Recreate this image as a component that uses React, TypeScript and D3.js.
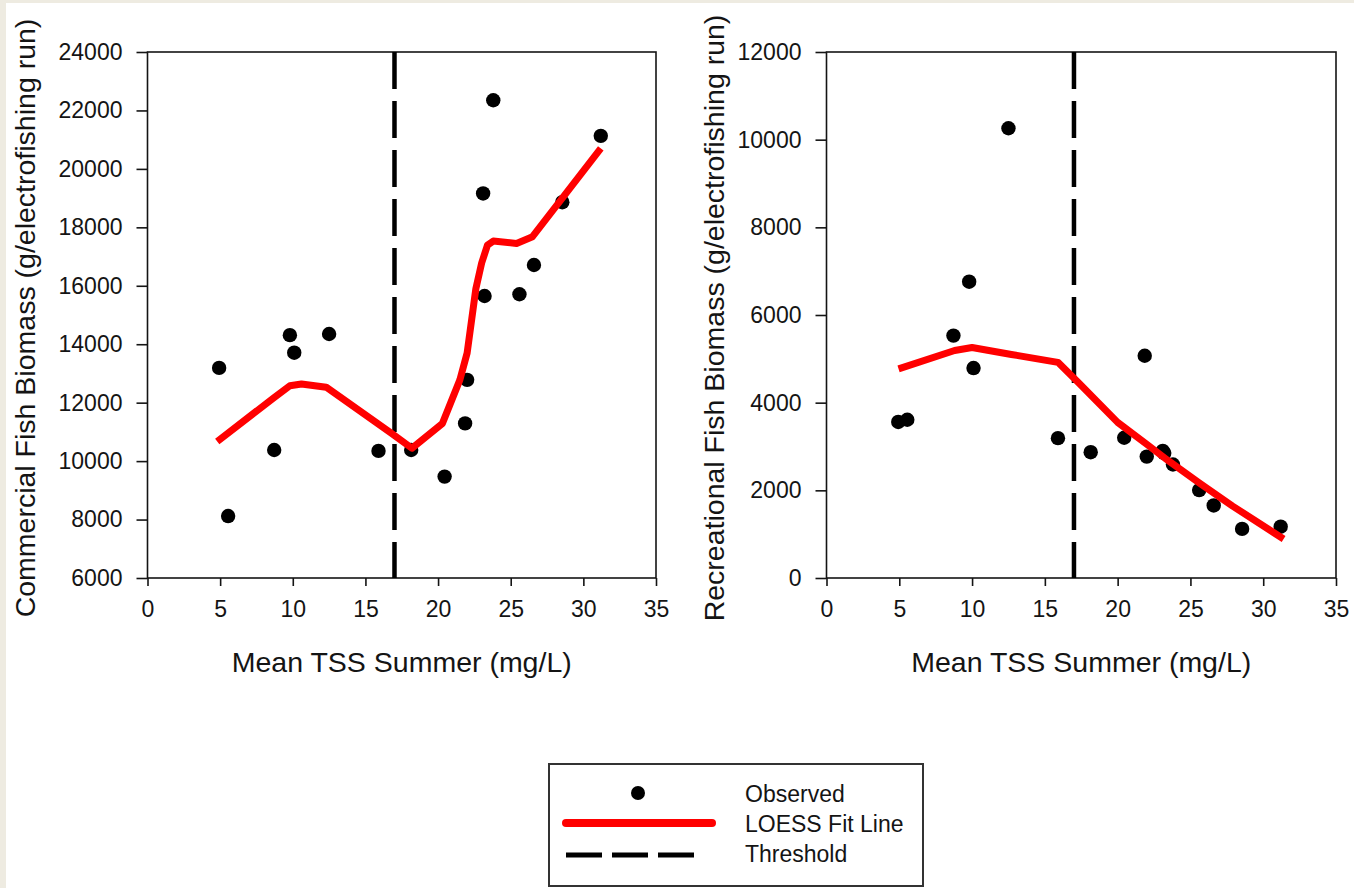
import React, { useEffect, useRef } from "react";
import * as d3 from "d3";

// shared x values (mean summer TSS, mg/L)
const tss = [4.93, 5.55, 8.72, 9.8, 10.1, 12.5, 15.9, 18.15, 20.45, 21.86, 22.0, 23.1, 23.2, 23.8, 25.6, 26.6, 28.55, 31.2];
const commercial = [13190, 8120, 10380, 14310, 13710, 14350, 10350, 10380, 9470, 11290, 12780, 19160, 15650, 22350, 15710, 16710, 18860, 21130];
const recreational = [3560, 3610, 5530, 6760, 4790, 10260, 3190, 2870, 3200, 5070, 2770, 2900, 2850, 2590, 2005, 1655, 1120, 1170];

// LOESS fit lines
const commercialFitX = [4.8, 8.7, 9.8, 10.6, 12.3, 16.8, 18.2, 20.3, 21.5, 22.0, 22.6, 23.0, 23.4, 23.8, 25.4, 26.5, 31.2];
const commercialFitY = [10670, 12170, 12580, 12640, 12530, 10950, 10440, 11290, 12780, 13700, 15900, 16780, 17390, 17530, 17450, 17680, 20700];
const recreationalFitX = [4.95, 8.8, 10.0, 12.7, 15.9, 17.3, 20.0, 22.0, 23.5, 25.6, 27.9, 31.4];
const recreationalFitY = [4770, 5190, 5260, 5100, 4920, 4460, 3550, 3050, 2670, 2170, 1640, 890];

const threshold = 17;
const xTicks = [0, 5, 10, 15, 20, 25, 30, 35];
const commercialTicks = [6000, 8000, 10000, 12000, 14000, 16000, 18000, 20000, 22000, 24000];
const recreationalTicks = [0, 2000, 4000, 6000, 8000, 10000, 12000];

const W = 1354;
const H = 888;
const FONT = "'Liberation Sans', Arial, sans-serif";
const INK = "#141414";

function drawPanel(svg, opts) {
  const { left, right, top, bottom, yDomain, yTicks, ys, fitX, fitY, title, titleX } = opts;
  const x = d3.scaleLinear().domain([0, 35]).range([left, right]);
  const y = d3.scaleLinear().domain(yDomain).range([bottom, top]);
  const g = svg.append("g");

  // frame
  g.append("rect")
    .attr("x", left)
    .attr("y", top)
    .attr("width", right - left)
    .attr("height", bottom - top)
    .attr("fill", "none")
    .attr("stroke", INK)
    .attr("stroke-width", 1.6);

  const yAxis = g
    .append("g")
    .attr("transform", `translate(${left},0)`)
    .call(d3.axisLeft(y).tickValues(yTicks).tickSize(11).tickSizeOuter(0).tickPadding(14).tickFormat(d3.format("d")));
  const xAxis = g
    .append("g")
    .attr("transform", `translate(0,${bottom})`)
    .call(d3.axisBottom(x).tickValues(xTicks).tickSize(8).tickSizeOuter(0).tickPadding(15).tickFormat(d3.format("d")));
  [yAxis, xAxis].forEach((a) => {
    a.select(".domain").remove();
    a.selectAll("line").attr("stroke", INK).attr("stroke-width", 1.6);
    a.selectAll("text").attr("fill", INK).style("font-family", FONT).style("font-size", "23px");
  });

  // threshold
  g.append("line")
    .attr("x1", x(threshold))
    .attr("x2", x(threshold))
    .attr("y1", top)
    .attr("y2", bottom)
    .attr("stroke", "#000")
    .attr("stroke-width", 4.5)
    .attr("stroke-dasharray", "37,12");

  // observed points
  g.selectAll("circle.obs")
    .data(tss)
    .enter()
    .append("circle")
    .attr("class", "obs")
    .attr("cx", (d) => x(d))
    .attr("cy", (d, i) => y(ys[i]))
    .attr("r", 7.2)
    .attr("fill", "#000");

  // LOESS fit
  const line = d3
    .line()
    .x((d) => x(d[0]))
    .y((d) => y(d[1]));
  g.append("path")
    .datum(fitX.map((v, i) => [v, fitY[i]]))
    .attr("d", line)
    .attr("fill", "none")
    .attr("stroke", "#ff0000")
    .attr("stroke-width", 7)
    .attr("stroke-linejoin", "round");

  // axis titles
  g.append("text")
    .attr("x", (left + right) / 2)
    .attr("y", 672)
    .attr("text-anchor", "middle")
    .attr("fill", INK)
    .style("font-family", FONT)
    .style("font-size", "28.5px")
    .text("Mean TSS Summer (mg/L)");
  g.append("text")
    .attr("transform", `translate(${titleX},318) rotate(-90)`)
    .attr("text-anchor", "middle")
    .attr("fill", INK)
    .style("font-family", FONT)
    .style("font-size", "28.5px")
    .text(title);
}

const App = () => {
  const ref = useRef(null);

  useEffect(() => {
    const svg = d3.select(ref.current);
    svg.selectAll("*").remove();

    svg.append("rect").attr("width", W).attr("height", H).attr("fill", "#eeebe1");
    svg.append("rect").attr("x", 6).attr("y", 3).attr("width", W - 6).attr("height", H - 3).attr("fill", "#fff");

    drawPanel(svg, {
      left: 147.5,
      right: 656,
      top: 52,
      bottom: 578,
      yDomain: [6000, 24000],
      yTicks: commercialTicks,
      ys: commercial,
      fitX: commercialFitX,
      fitY: commercialFitY,
      title: "Commercial Fish Biomass (g/electrofishing run)",
      titleX: 35,
    });
    drawPanel(svg, {
      left: 826.5,
      right: 1336,
      top: 52,
      bottom: 578,
      yDomain: [0, 12000],
      yTicks: recreationalTicks,
      ys: recreational,
      fitX: recreationalFitX,
      fitY: recreationalFitY,
      title: "Recreational Fish Biomass (g/electrofishing run)",
      titleX: 724,
    });

    // legend
    const lg = svg.append("g");
    lg.append("rect")
      .attr("x", 549)
      .attr("y", 764)
      .attr("width", 374)
      .attr("height", 122)
      .attr("fill", "#fff")
      .attr("stroke", "#333")
      .attr("stroke-width", 2);
    lg.append("circle").attr("cx", 638).attr("cy", 793).attr("r", 7).attr("fill", "#000");
    lg.append("line")
      .attr("x1", 566).attr("x2", 712).attr("y1", 823).attr("y2", 823)
      .attr("stroke", "#ff0000").attr("stroke-width", 8).attr("stroke-linecap", "round");
    lg.append("line")
      .attr("x1", 566).attr("x2", 694).attr("y1", 855).attr("y2", 855)
      .attr("stroke", "#000").attr("stroke-width", 5).attr("stroke-dasharray", "36,10");
    const labels = ["Observed", "LOESS Fit Line", "Threshold"];
    lg.selectAll("text.lab")
      .data(labels)
      .enter()
      .append("text")
      .attr("class", "lab")
      .attr("x", 745)
      .attr("y", (d, i) => 802 + i * 30)
      .attr("fill", INK)
      .style("font-family", FONT)
      .style("font-size", "23px")
      .text((d) => d);
  }, []);

  return (
    <svg
      ref={ref}
      width={W}
      height={H}
      style={{ position: "absolute", left: 0, top: 0, display: "block" }}
    ></svg>
  );
};

export default App;
